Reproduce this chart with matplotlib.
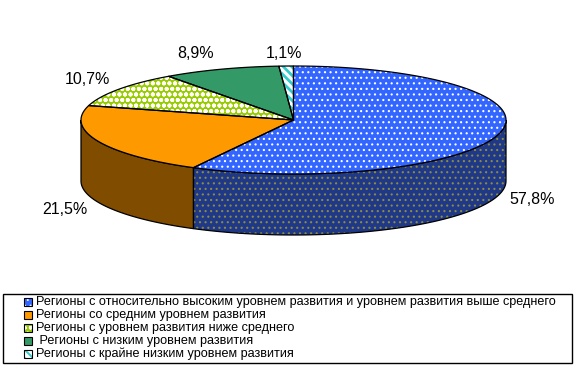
import numpy as np
import matplotlib
matplotlib.use("Agg")
import matplotlib.pyplot as plt
from matplotlib.patches import Polygon, Rectangle

# Доли регионов по уровню развития, %
kategoriat = [
    "Регионы с относительно высоким уровнем развития и уровнем развития выше среднего",
    "Регионы со средним уровнем развития",
    "Регионы с уровнем развития ниже среднего",
    " Регионы с низким уровнем развития",
    "Регионы с крайне низким уровнем развития",
]
arvot = [57.8, 21.5, 10.7, 8.9, 1.1]
nimikkeet = ["57,8%", "21,5%", "10,7%", "8,9%", "1,1%"]

# värit: kansi, kylki, kuvio, kuvion väri
kansi = ["#3366ff", "#ff9900", "#99cc00", "#339966", "#ffffff"]
kylki = ["#1f3888", "#804c00", "#4d6600", "#1a4d33", "#1a6666"]
kuviot = ["...", None, "ooo", None, "\\\\\\\\"]
kuvio_vari = ["#ffffff", None, "#ffffff", None, "#33cccc"]
kuvio_leveys = [0.8, 1, 1.3, 1, 2.0]
kylki_kuvio = ["...", None, None, None, None]
kylki_kuvio_vari = ["#8c8c40", None, None, None, None]
nimi_paikat = [(532, 199), (65, 210), (87, 80), (196, 54), (284, 54)]

plt.rcParams['font.family'] = ['Liberation Sans', 'DejaVu Sans']

fig = plt.figure(figsize=(5.88, 3.67), dpi=100)
ax = fig.add_axes([0, 0, 1, 1])
ax.set_xlim(0, 588)
ax.set_ylim(367, 0)
ax.axis("off")

cx, cy, a, b, syvyys = 293.5, 120, 212.5, 54, 61


def piste(kulma, dy=0):
    t = np.radians(kulma)
    return cx + a * np.cos(t), cy - b * np.sin(t) + dy


def taytto(pisteet, fc, hatch, hc, z, lw=1.0):
    with plt.rc_context({'hatch.linewidth': lw}):
        p = Polygon(pisteet, closed=True, facecolor=fc, edgecolor=hc if hatch else fc,
                    linewidth=0, hatch=hatch, zorder=z)
    ax.add_patch(p)
    ax.add_patch(Polygon(pisteet, closed=True, fill=False, edgecolor="black",
                         linewidth=0.9, zorder=z + 0.5))


# kulmat: alkaa klo 12, myötäpäivään
yht = sum(arvot)
rajat = [90.0]
for v in arvot:
    rajat.append(rajat[-1] - v / yht * 360)

# kyljet (vain etupuoli 180..360)
for i, v in enumerate(arvot):
    alku, loppu = rajat[i + 1] % 360, rajat[i] % 360
    if loppu <= alku:
        loppu += 360
    ala = max(alku, 180)
    yla = min(loppu, 360)
    if yla <= ala:
        continue
    k = np.linspace(ala, yla, 80)
    ylaosa = [piste(t) for t in k]
    alaosa = [piste(t, syvyys) for t in k[::-1]]
    taytto(ylaosa + alaosa, kylki[i], kylki_kuvio[i], kylki_kuvio_vari[i], 1, 0.8)

# kannet
for i, v in enumerate(arvot):
    k = np.linspace(rajat[i], rajat[i + 1], 120)
    pts = [(cx, cy)] + [piste(t) for t in k]
    taytto(pts, kansi[i], kuviot[i], kuvio_vari[i], 3, kuvio_leveys[i])

for nimi, (x, y) in zip(nimikkeet, nimi_paikat):
    ax.text(x, y, nimi, fontsize=11.5, ha="center", va="center", zorder=5)

# selite
ax.add_patch(Rectangle((3, 294), 569, 69, fill=False, edgecolor="black", linewidth=1, zorder=5))
for i, teksti in enumerate(kategoriat):
    y = 302 + i * 13
    with plt.rc_context({'hatch.linewidth': kuvio_leveys[i] * 0.7}):
        ax.add_patch(Rectangle((24, y - 4), 8, 8, facecolor=kansi[i],
                               edgecolor=kuvio_vari[i] if kuviot[i] else kansi[i],
                               linewidth=0, hatch=kuviot[i], zorder=6))
    ax.add_patch(Rectangle((24, y - 4), 8, 8, fill=False, edgecolor="black", linewidth=0.8, zorder=6.5))
    ax.text(36, y, teksti, fontsize=9.1, ha="left", va="center", zorder=6)

fig.savefig("out.png", dpi=100)
